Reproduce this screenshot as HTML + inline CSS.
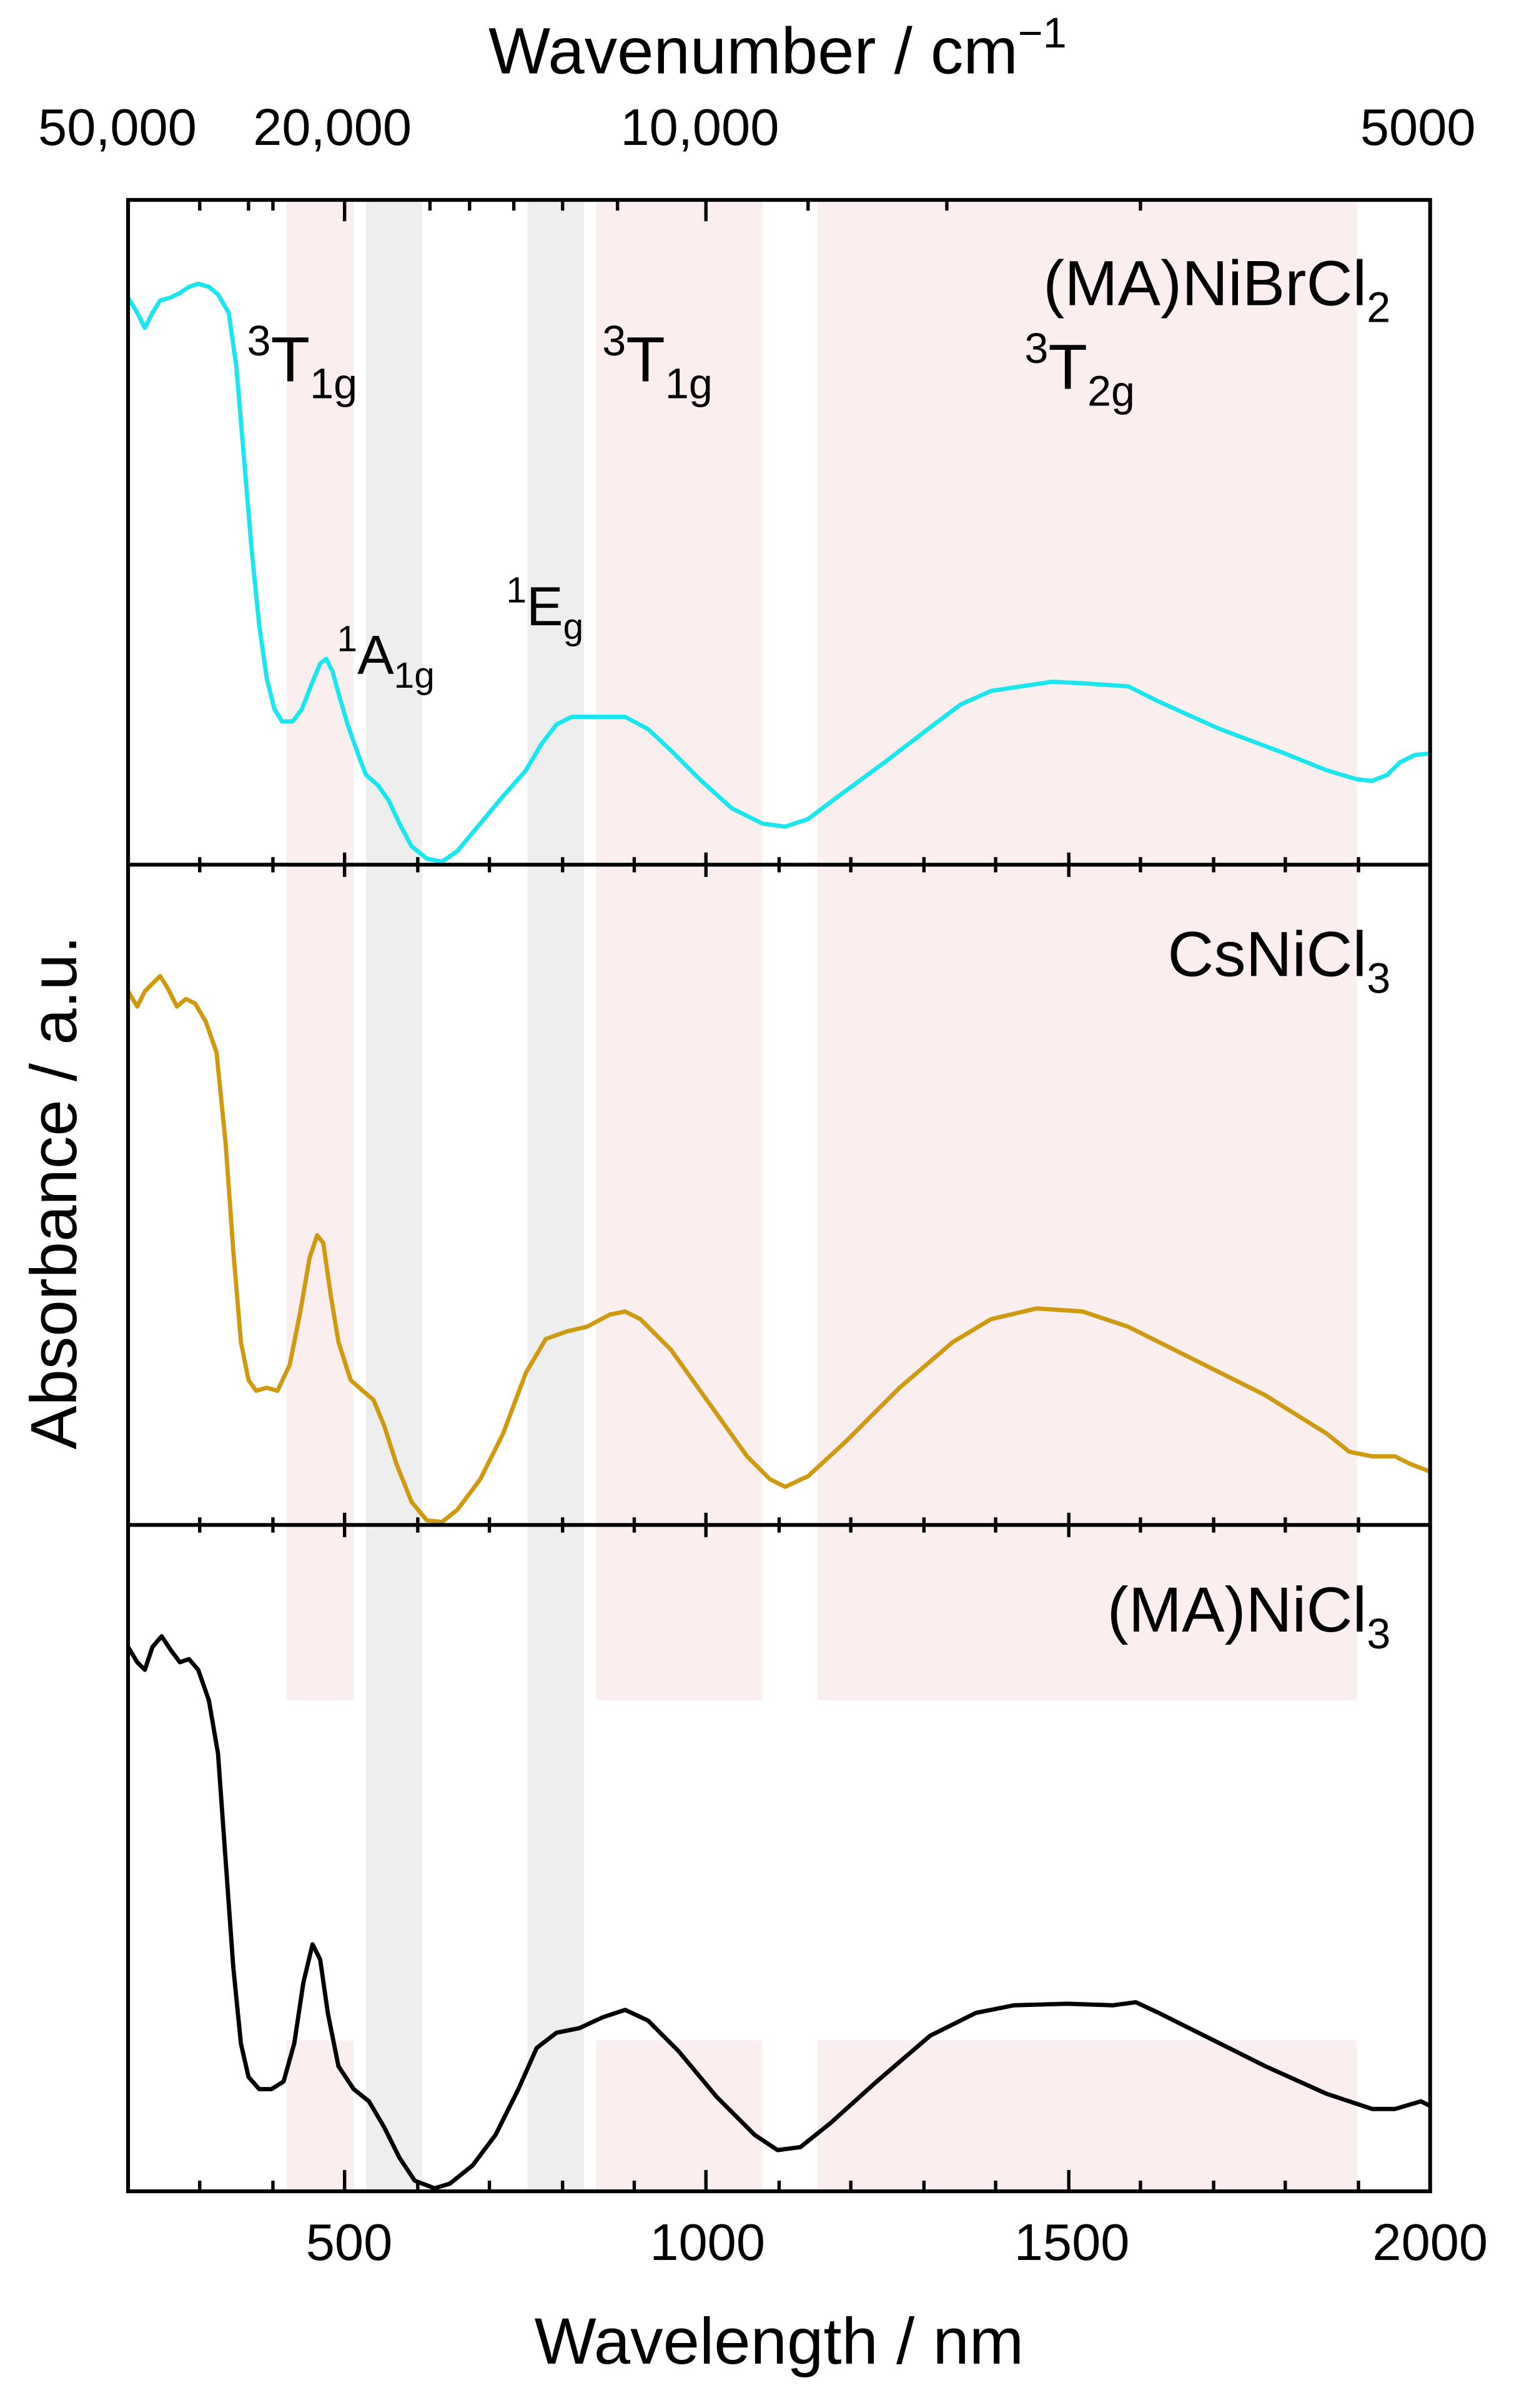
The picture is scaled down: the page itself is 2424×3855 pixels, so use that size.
<!DOCTYPE html>
<html><head><meta charset="utf-8"><style>html,body{margin:0;padding:0;background:#fff}svg{display:block}</style></head>
<body>
<svg xmlns="http://www.w3.org/2000/svg" width="2424" height="3855" viewBox="0 0 993 1579" font-family="Liberation Sans, sans-serif">
<rect width="993" height="1579" fill="#fff"/>
<g fill="#fbeeee">
<rect x="188" y="131" width="44" height="984"/>
<rect x="391" y="131" width="109" height="984"/>
<rect x="536" y="131" width="354" height="984"/>
<rect x="188" y="1338" width="44" height="99"/>
<rect x="391" y="1338" width="109" height="99"/>
<rect x="536" y="1338" width="354" height="99"/>
</g>
<g fill="#eeeeee">
<rect x="240" y="131" width="37" height="1306"/>
<rect x="346" y="131" width="37" height="1306"/>
</g>
<g fill="none" stroke-width="2.8" stroke-linejoin="round">
<polyline stroke="#19e6ee" points="84,195 90,205 95,215 100,205 105,197 112,195 118,192 124,188 130,186 137,188 143,193 150,205 155,240 160,300 165,360 170,410 175,445 180,465 185,473 192,473 198,465 205,447 210,435 214,432 218,440 223,458 228,475 235,495 240,508 248,515 255,525 262,540 270,555 280,563 290,565 300,558 315,540 330,522 345,505 355,488 365,475 375,470 390,470 410,470 425,478 440,492 460,512 480,530 500,540 515,542 530,537 550,522 580,500 610,477 630,462 650,453 670,450 690,447 710,448 740,450 760,460 800,478 840,493 870,505 890,511 900,512 910,508 918,500 928,495 938,494"/>
<polyline stroke="#d09a10" points="84,650 90,660 95,650 100,645 105,640 110,648 116,660 122,655 128,658 135,670 142,690 148,750 153,820 158,880 163,905 168,912 175,910 182,912 190,895 197,860 203,825 208,810 212,815 217,850 222,880 230,905 238,912 245,918 252,935 260,960 270,985 280,997 290,998 300,990 315,970 330,940 345,900 358,878 372,873 385,870 400,862 410,860 420,865 440,885 465,920 490,955 505,970 515,975 530,968 555,945 590,910 625,880 650,865 680,858 710,860 740,870 780,890 830,915 870,940 885,952 900,955 915,955 925,960 938,965"/>
<polyline stroke="#000" points="84,1080 90,1090 95,1095 100,1080 106,1073 112,1082 118,1090 124,1088 130,1095 137,1115 143,1150 148,1220 153,1290 158,1340 163,1362 170,1370 178,1370 186,1365 193,1340 199,1300 205,1275 210,1285 215,1320 222,1355 232,1370 242,1378 252,1395 262,1415 272,1430 285,1435 295,1432 310,1420 325,1400 340,1370 352,1343 365,1333 380,1330 395,1323 410,1318 425,1325 445,1345 470,1375 495,1400 510,1410 525,1408 545,1392 575,1365 610,1335 640,1320 665,1315 700,1314 730,1315 745,1313 760,1320 790,1335 830,1355 870,1373 900,1383 915,1383 925,1380 932,1378 938,1381"/>
</g>
<g stroke="#000" stroke-width="2.5" fill="none">
<rect x="84" y="131" width="854" height="1306"/>
<line x1="84" y1="567" x2="938" y2="567"/>
<line x1="84" y1="1000" x2="938" y2="1000"/>
</g>
<g stroke="#000" stroke-width="2.2">
<line x1="226" y1="1437" x2="226" y2="1423"/><line x1="463" y1="1437" x2="463" y2="1423"/><line x1="701" y1="1437" x2="701" y2="1423"/><line x1="938" y1="1437" x2="938" y2="1423"/>
<line x1="131" y1="1437" x2="131" y2="1430"/><line x1="179" y1="1437" x2="179" y2="1430"/><line x1="274" y1="1437" x2="274" y2="1430"/><line x1="321" y1="1437" x2="321" y2="1430"/><line x1="369" y1="1437" x2="369" y2="1430"/><line x1="416" y1="1437" x2="416" y2="1430"/><line x1="511" y1="1437" x2="511" y2="1430"/><line x1="558" y1="1437" x2="558" y2="1430"/><line x1="606" y1="1437" x2="606" y2="1430"/><line x1="653" y1="1437" x2="653" y2="1430"/><line x1="748" y1="1437" x2="748" y2="1430"/><line x1="796" y1="1437" x2="796" y2="1430"/><line x1="843" y1="1437" x2="843" y2="1430"/><line x1="891" y1="1437" x2="891" y2="1430"/>
<line x1="226" y1="559" x2="226" y2="575"/><line x1="463" y1="559" x2="463" y2="575"/><line x1="701" y1="559" x2="701" y2="575"/>
<line x1="131" y1="562" x2="131" y2="572"/><line x1="179" y1="562" x2="179" y2="572"/><line x1="274" y1="562" x2="274" y2="572"/><line x1="321" y1="562" x2="321" y2="572"/><line x1="369" y1="562" x2="369" y2="572"/><line x1="416" y1="562" x2="416" y2="572"/><line x1="511" y1="562" x2="511" y2="572"/><line x1="558" y1="562" x2="558" y2="572"/><line x1="606" y1="562" x2="606" y2="572"/><line x1="653" y1="562" x2="653" y2="572"/><line x1="748" y1="562" x2="748" y2="572"/><line x1="796" y1="562" x2="796" y2="572"/><line x1="843" y1="562" x2="843" y2="572"/><line x1="891" y1="562" x2="891" y2="572"/>
<line x1="226" y1="992" x2="226" y2="1008"/><line x1="463" y1="992" x2="463" y2="1008"/><line x1="701" y1="992" x2="701" y2="1008"/>
<line x1="131" y1="995" x2="131" y2="1005"/><line x1="179" y1="995" x2="179" y2="1005"/><line x1="274" y1="995" x2="274" y2="1005"/><line x1="321" y1="995" x2="321" y2="1005"/><line x1="369" y1="995" x2="369" y2="1005"/><line x1="416" y1="995" x2="416" y2="1005"/><line x1="511" y1="995" x2="511" y2="1005"/><line x1="558" y1="995" x2="558" y2="1005"/><line x1="606" y1="995" x2="606" y2="1005"/><line x1="653" y1="995" x2="653" y2="1005"/><line x1="748" y1="995" x2="748" y2="1005"/><line x1="796" y1="995" x2="796" y2="1005"/><line x1="843" y1="995" x2="843" y2="1005"/><line x1="891" y1="995" x2="891" y2="1005"/>
<line x1="226" y1="131" x2="226" y2="145"/><line x1="463" y1="131" x2="463" y2="145"/><line x1="938" y1="131" x2="938" y2="145"/>
<line x1="131" y1="131" x2="131" y2="138"/><line x1="163" y1="131" x2="163" y2="138"/><line x1="179" y1="131" x2="179" y2="138"/><line x1="282" y1="131" x2="282" y2="138"/><line x1="308" y1="131" x2="308" y2="138"/><line x1="337" y1="131" x2="337" y2="138"/><line x1="369" y1="131" x2="369" y2="138"/><line x1="405" y1="131" x2="405" y2="138"/><line x1="530" y1="131" x2="530" y2="138"/><line x1="621" y1="131" x2="621" y2="138"/><line x1="748" y1="131" x2="748" y2="138"/>
</g>
<g font-size="34" fill="#000" text-anchor="middle">
<text x="229" y="1482">500</text><text x="464" y="1482">1000</text><text x="703" y="1482">1500</text><text x="938" y="1482">2000</text>
<text x="77" y="95">50,000</text><text x="218" y="95">20,000</text><text x="459" y="95">10,000</text><text x="930" y="95">5000</text>
</g>
<g font-size="43" fill="#000" text-anchor="middle">
<text x="511" y="1550">Wavelength / nm</text>
<text x="510" y="48">Wavenumber / cm<tspan font-size="28" dy="-17">−1</tspan></text>
<text transform="translate(50,782) rotate(-90)">Absorbance / a.u.</text>
</g>
<g font-size="42" fill="#000" text-anchor="end">
<text x="912" y="200">(MA)NiBrCl<tspan font-size="28" dy="11">2</tspan></text>
<text x="912" y="640">CsNiCl<tspan font-size="28" dy="11">3</tspan></text>
<text x="912" y="1070">(MA)NiCl<tspan font-size="28" dy="11">3</tspan></text>
</g>
<g font-size="42" fill="#000">
<text x="162" y="250"><tspan font-size="28" dy="-17">3</tspan><tspan dy="17">T</tspan><tspan font-size="28" dy="11">1g</tspan></text>
<text x="395" y="250"><tspan font-size="28" dy="-17">3</tspan><tspan dy="17">T</tspan><tspan font-size="28" dy="11">1g</tspan></text>
<text x="672" y="255"><tspan font-size="28" dy="-17">3</tspan><tspan dy="17">T</tspan><tspan font-size="28" dy="11">2g</tspan></text>
<text x="221" y="442" font-size="36"><tspan font-size="24" dy="-15">1</tspan><tspan dy="15">A</tspan><tspan font-size="24" dy="9">1g</tspan></text>
<text x="332" y="410" font-size="36"><tspan font-size="24" dy="-15">1</tspan><tspan dy="15">E</tspan><tspan font-size="24" dy="9">g</tspan></text>
</g>
</svg>
</body></html>
